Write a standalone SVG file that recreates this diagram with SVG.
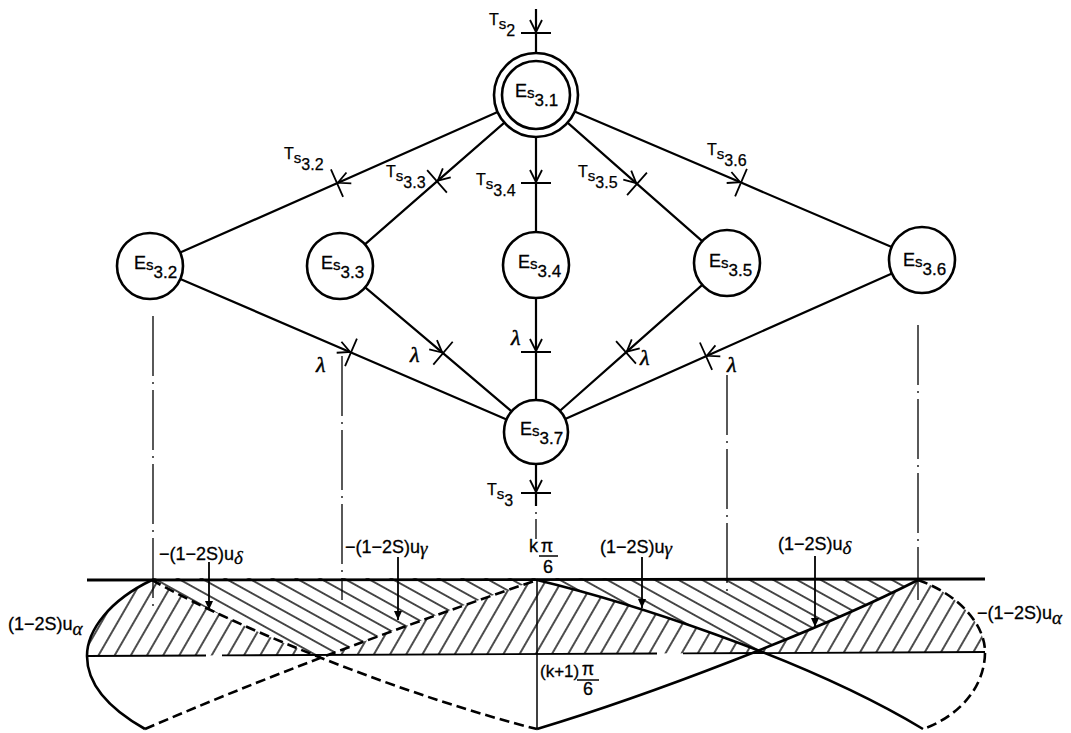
<svg xmlns="http://www.w3.org/2000/svg" width="1071" height="733" viewBox="0 0 1071 733">
<style>
.nd{fill:#fff;stroke:#000;stroke-width:2.6}
.ed{fill:none;stroke:#000;stroke-width:2.2;marker-mid:url(#tr)}
.nl{font-family:"Liberation Sans","DejaVu Sans",sans-serif;font-size:18px;fill:#000;stroke:#000;stroke-width:0.3}
.nl .ss{font-size:15px}
.nl .dg{font-size:17px}
.tl{font-family:"Liberation Sans","DejaVu Sans",sans-serif;font-size:16px;fill:#000;stroke:#000;stroke-width:0.25}
.tl .ss{font-size:15px}
.lam{font-family:"Liberation Serif","DejaVu Serif",serif;font-style:italic;font-size:22px;fill:#000;stroke:#000;stroke-width:0.5}
.wl{font-family:"Liberation Sans","DejaVu Sans",sans-serif;font-size:18px;fill:#000;stroke:#000;stroke-width:0.3}
.gk{font-family:"Liberation Serif","DejaVu Serif",serif;font-style:italic;font-size:19px}
.dd{fill:none;stroke:#000;stroke-width:1.3;stroke-dasharray:60 6 2 6}
.cv{fill:none;stroke:#000;stroke-width:2.6}
.dash{stroke-dasharray:10 5}
.ar{fill:none;stroke:#000;stroke-width:1.8;marker-end:url(#ah)}
</style>
<defs>
<marker id="tr" markerUnits="userSpaceOnUse" viewBox="-20 -20 40 40" refX="0" refY="0" markerWidth="40" markerHeight="40" orient="auto">
<path d="M-13,-6 L-1,0 L-13,6 M0,-15 L0,15" fill="none" stroke="#000" stroke-width="1.8"/>
</marker>
<marker id="ah" markerUnits="userSpaceOnUse" viewBox="-10 -5 10 10" refX="0" refY="0" markerWidth="10" markerHeight="10" orient="auto">
<path d="M-9,-4 L0,0 L-9,4 Z" fill="#000"/>
</marker>
<pattern id="hb" patternUnits="userSpaceOnUse" width="20" height="11.5" patternTransform="rotate(29)">
<line x1="0" y1="5.75" x2="20" y2="5.75" stroke="#000" stroke-width="1.4"/>
</pattern>
<pattern id="hf" patternUnits="userSpaceOnUse" width="20" height="14" patternTransform="rotate(-60)">
<line x1="0" y1="7" x2="20" y2="7" stroke="#000" stroke-width="1.4"/>
</pattern>
<mask id="mH1" maskUnits="userSpaceOnUse" x="0" y="0" width="1071" height="733">
<rect x="152" y="578" width="766" height="160" fill="#fff"/>
<path d="M152,580 C250,635 420,700 537,729 L537,760 L152,760 Z" fill="#000"/>
<path d="M145,729 C300,662 450,610 537,580 L537,760 L145,760 Z" fill="#000"/>
<path d="M537,580 C620,600 800,655 923,729 L923,760 L537,760 Z" fill="#000"/>
<path d="M537,729 C650,695 820,630 918,580 L918,760 L537,760 Z" fill="#000"/>
</mask>
</defs>
<rect width="1071" height="733" fill="#fff"/>

<g id="connectors">
<path class="ed" d="M536,9 L536,33 L536,53"/>
<path class="ed" d="M497.6,112 L337,183.2 L180.2,252.6"/>
<path class="ed" d="M504.4,122.6 L437,181.4 L364.9,244.3"/>
<path class="ed" d="M536,137 L536,183 L536,232"/>
<path class="ed" d="M567.5,122.7 L637,183.8 L702.2,241.2"/>
<path class="ed" d="M574.6,111.5 L741,182.6 L891.7,247"/>
<path class="ed" d="M180.3,279 L351,352.4 L506.6,419.4"/>
<path class="ed" d="M365.2,287.3 L443,353.2 L511.6,411.3"/>
<path class="ed" d="M536,298 L536,352 L536,400"/>
<path class="ed" d="M702.3,284.9 L626,352.4 L560,410.8"/>
<path class="ed" d="M891.9,273.4 L706,356.2 L565.2,419"/>
<path class="ed" d="M536,464 L536,493 L536,506"/>
</g>

<g id="transition-labels">
<text class="tl" x="489" y="25">T<tspan class="ss" dy="4">s</tspan><tspan dy="7">2</tspan></text>
<text class="tl" x="284" y="159">T<tspan class="ss" dy="4">s</tspan><tspan dy="7">3.2</tspan></text>
<text class="tl" x="386" y="177">T<tspan class="ss" dy="4">s</tspan><tspan dy="7">3.3</tspan></text>
<text class="tl" x="476" y="185">T<tspan class="ss" dy="4">s</tspan><tspan dy="7">3.4</tspan></text>
<text class="tl" x="578" y="177">T<tspan class="ss" dy="4">s</tspan><tspan dy="7">3.5</tspan></text>
<text class="tl" x="707" y="155">T<tspan class="ss" dy="4">s</tspan><tspan dy="7">3.6</tspan></text>
<text class="tl" x="487" y="495">T<tspan class="ss" dy="4">s</tspan><tspan dy="7">3</tspan></text>
<text class="lam" x="316" y="372">λ</text>
<text class="lam" x="410" y="362">λ</text>
<text class="lam" x="511" y="345">λ</text>
<text class="lam" x="640" y="365">λ</text>
<text class="lam" x="727" y="372">λ</text>
</g>

<g id="Es3_1"><circle class="nd" cx="536" cy="95" r="42"/><circle class="nd" cx="536" cy="95" r="34"/><text class="nl" x="515" y="97">E<tspan class="ss" dy="1">s</tspan><tspan class="dg" dy="8">3.1</tspan></text></g>
<g id="Es3_2"><circle class="nd" cx="150" cy="266" r="33"/><text class="nl" x="134" y="269">E<tspan class="ss" dy="1">s</tspan><tspan class="dg" dy="8">3.2</tspan></text></g>
<g id="Es3_3"><circle class="nd" cx="340" cy="266" r="33"/><text class="nl" x="321" y="269">E<tspan class="ss" dy="1">s</tspan><tspan class="dg" dy="8">3.3</tspan></text></g>
<g id="Es3_4"><circle class="nd" cx="536" cy="265" r="33"/><text class="nl" x="518" y="268">E<tspan class="ss" dy="1">s</tspan><tspan class="dg" dy="8">3.4</tspan></text></g>
<g id="Es3_5"><circle class="nd" cx="727" cy="263" r="33"/><text class="nl" x="709" y="267">E<tspan class="ss" dy="1">s</tspan><tspan class="dg" dy="8">3.5</tspan></text></g>
<g id="Es3_6"><circle class="nd" cx="922" cy="260" r="33"/><text class="nl" x="903" y="266">E<tspan class="ss" dy="1">s</tspan><tspan class="dg" dy="8">3.6</tspan></text></g>
<g id="Es3_7"><circle class="nd" cx="536" cy="432" r="32"/><text class="nl" x="520" y="435">E<tspan class="ss" dy="1">s</tspan><tspan class="dg" dy="8">3.7</tspan></text></g>

<g id="waveform">
<path d="M152,580 C110,600 87,630 87,656 L985,652 C985,624 958,594 918,580 Z" fill="url(#hf)"/>
<g mask="url(#mH1)">
<rect x="152" y="578" width="766" height="160" fill="#fff"/>
<rect x="152" y="578" width="766" height="160" fill="url(#hb)"/>
</g>
<line x1="87" y1="580" x2="985" y2="579" stroke="#000" stroke-width="2.8"/>
<path d="M87,656 L206,655.5 M222,655.4 L657,653.5 M683,653.4 L985,652" fill="none" stroke="#000" stroke-width="1.8"/>
<path class="cv dash" d="M152,580 C250,635 420,700 537,729"/>
<path class="cv dash" d="M145,729 C300,662 450,610 537,580"/>
<path class="cv" d="M537,580 C620,600 800,655 923,729"/>
<path class="cv" d="M537,729 C650,695 820,630 918,580"/>
<path class="cv" d="M152,580 C110,600 87,630 87,656 C87,688 115,712 145,729"/>
<path class="cv dash" d="M918,580 C958,594 985,624 985,652 C985,690 955,718 923,729"/>
<line x1="537" y1="580" x2="537" y2="729" stroke="#000" stroke-width="1.5"/>
</g>

<g id="projection-lines">
<line class="dd" x1="153" y1="316" x2="153" y2="607"/>
<line class="dd" x1="342" y1="356" x2="342" y2="600"/>
<line class="dd" x1="727" y1="375" x2="727" y2="597"/>
<line class="dd" x1="918" y1="325" x2="918" y2="600"/>
<line x1="536" y1="512" x2="536" y2="540" stroke="#000" stroke-width="1.3" stroke-dasharray="2 5 20 4"/>
</g>

<g id="waveform-labels">
<text class="wl" x="159" y="560">−(1−2S)u<tspan class="gk" dy="4">δ</tspan></text>
<line class="ar" x1="209" y1="562" x2="209" y2="610"/>
<text class="wl" x="8" y="630">(1−2S)u<tspan class="gk" dy="5">α</tspan></text>
<text class="wl" x="345" y="553">−(1−2S)u<tspan class="gk" dy="2">γ</tspan></text>
<line class="ar" x1="398" y1="557" x2="398" y2="620"/>
<text class="wl" x="529" y="552">k</text>
<text class="wl" x="547" y="552" text-anchor="middle">π</text>
<line x1="539" y1="556" x2="558" y2="556" stroke="#000" stroke-width="1.5"/>
<text class="wl" x="548" y="573" text-anchor="middle">6</text>
<text class="wl" x="600" y="553">(1−2S)u<tspan class="gk" dy="2">γ</tspan></text>
<line class="ar" x1="642" y1="557" x2="642" y2="608"/>
<text class="wl" x="778" y="550">(1−2S)u<tspan class="gk" dy="4">δ</tspan></text>
<line class="ar" x1="815" y1="556" x2="815" y2="627"/>
<text class="wl" x="977" y="619">−(1−2S)u<tspan class="gk" dy="5">α</tspan></text>
<text class="wl" x="540" y="677" style="font-size:17px">(k+1)</text>
<text class="wl" x="588" y="675" text-anchor="middle">π</text>
<line x1="577" y1="680" x2="599" y2="680" stroke="#000" stroke-width="1.5"/>
<text class="wl" x="588" y="695" text-anchor="middle">6</text>
</g>
</svg>
